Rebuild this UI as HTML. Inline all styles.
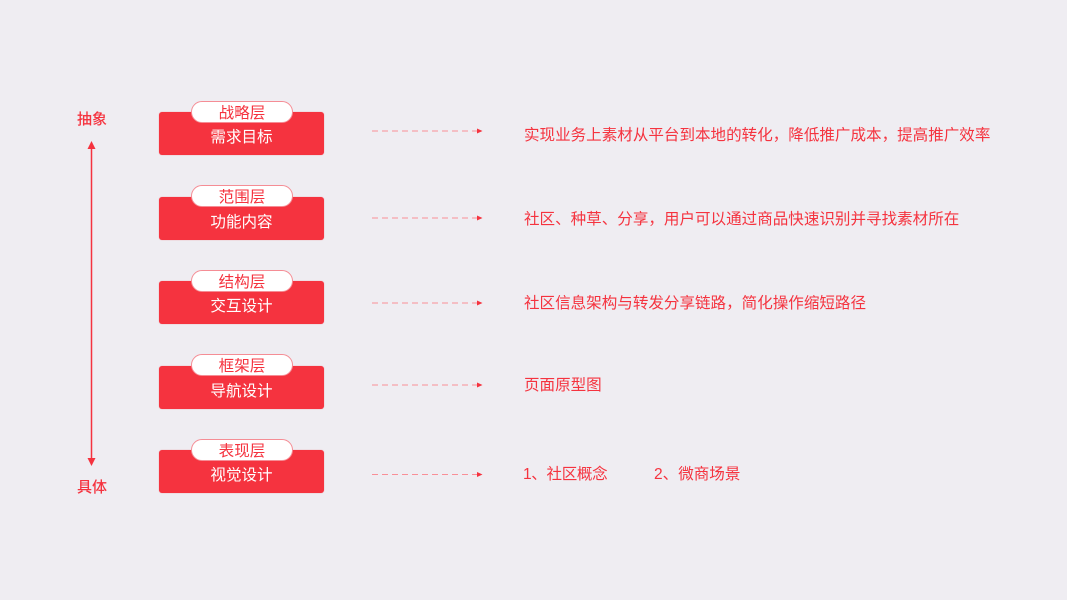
<!DOCTYPE html>
<html lang="zh">
<head>
<meta charset="utf-8">
<style>
html,body{margin:0;padding:0}
body{width:1067px;height:600px;background:#efedf2;position:relative;overflow:hidden;font-family:"Liberation Sans","Noto Sans CJK SC",sans-serif;color:#f5333f}
.t{position:absolute;white-space:nowrap;font-size:15.55px;line-height:20px}
.box{position:absolute;left:159px;width:165px;height:43px;background:#f5333f;border-radius:3px;box-shadow:0 0 1px rgba(245,51,63,.5)}
.box span{position:absolute;left:0;right:0;top:16px;text-align:center;color:#fff;font-size:15.55px;line-height:20px}
.pill{position:absolute;left:191px;width:100px;height:20px;background:#fff;border:1px solid #f58d95;border-radius:11px;text-align:center;color:#f5333f;font-size:15.55px;line-height:23px}
.side{position:absolute;left:77px;font-size:15px;line-height:20px;font-weight:500;white-space:nowrap}
svg{position:absolute;left:0;top:0}
</style>
</head>
<body>
<svg width="1067" height="600" viewBox="0 0 1067 600">
<rect x="90.750" y="148" width="1.500" height="311" fill="#f5333f"/>
<polygon points="91.5,141 95.5,149 87.500,149" fill="#f5333f"/>
<polygon points="91.5,466 95.5,458 87.500,458" fill="#f5333f"/>
<g stroke="#f98f97" stroke-width="1" stroke-dasharray="6 4" fill="none">
<line x1="372" y1="131" x2="478" y2="131"/>
<line x1="372" y1="218" x2="478" y2="218"/>
<line x1="372" y1="303" x2="478" y2="303"/>
<line x1="372" y1="385" x2="478" y2="385"/>
<line x1="372" y1="474.500" x2="478" y2="474.500"/>
</g>
<g fill="#f5333f">
<polygon points="482.500,131 477,128.500 477,133.500"/>
<polygon points="482.500,218 477,215.500 477,220.500"/>
<polygon points="482.500,303 477,300.500 477,305.500"/>
<polygon points="482.500,385 477,382.500 477,387.500"/>
<polygon points="482.500,474.500 477,472 477,477"/>
</g>
</svg>

<div class="side" style="top:110px">抽象</div>
<div class="side" style="top:478px">具体</div>

<div class="box" style="top:112px"><span>需求目标</span></div>
<div class="pill" style="top:101px">战略层</div>
<div class="box" style="top:197px"><span>功能内容</span></div>
<div class="pill" style="top:185px">范围层</div>
<div class="box" style="top:281px"><span>交互设计</span></div>
<div class="pill" style="top:270px">结构层</div>
<div class="box" style="top:366px"><span>导航设计</span></div>
<div class="pill" style="top:354px">框架层</div>
<div class="box" style="top:450px"><span>视觉设计</span></div>
<div class="pill" style="top:439px">表现层</div>

<div class="t" style="left:524px;top:126px">实现业务上素材从平台到本地的转化，降低推广成本，提高推广效率</div>
<div class="t" style="left:524px;top:210px">社区、种草、分享，用户可以通过商品快速识别并寻找素材所在</div>
<div class="t" style="left:524px;top:294px">社区信息架构与转发分享链路，简化操作缩短路径</div>
<div class="t" style="left:524px;top:376px">页面原型图</div>
<div class="t" style="left:523px;top:465px;letter-spacing:-.35px">1、社区概念</div>
<div class="t" style="left:654px;top:465px">2、微商场景</div>
</body>
</html>
